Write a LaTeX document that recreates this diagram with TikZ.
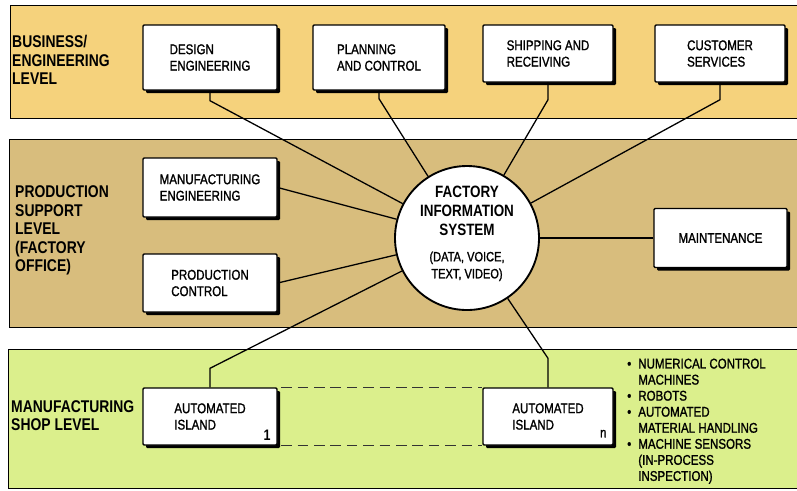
\documentclass[tikz,border=0pt]{standalone}
\usepackage{fontspec}
\setmainfont{Liberation Sans}[FakeStretch=0.82]
\newfontfamily\medfont{Liberation Sans}[FakeStretch=0.82, FakeBold=1.3]
\usetikzlibrary{shadows}
\definecolor{bizband}{HTML}{F5D27C}
\definecolor{supband}{HTML}{D8BD7D}
\definecolor{shopband}{HTML}{DBEF8C}

\begin{document}
\begin{tikzpicture}[x=0.03cm, y=-0.03cm,
    band/.style={draw=black, line width=0.7pt},
    unitbox/.style={draw=black, fill=white, line width=1.2pt, rounded corners=1pt,
      align=left, font=\medfont\fontsize{12}{14}\selectfont,
      general shadow={fill=black, shadow xshift=2.6pt, shadow yshift=-2.6pt}},
    level/.style={anchor=west, align=left, inner sep=0pt,
      font=\bfseries\fontsize{14.5}{15.8}\selectfont},
    link/.style={line width=1.1pt},
    islandgap/.style={line width=0.7pt, draw=black!80, dash pattern=on 9pt off 5pt}]
  \clip (0,0) rectangle (797,490);
  \fill[white] (0,0) rectangle (797,490);

  % the three levels
  \draw[band, fill=bizband] (10,5) rectangle (805,118);
  \draw[band, fill=supband] (9,139) rectangle (805,327);
  \draw[band, fill=shopband] (8,349) rectangle (805,488);

  \node[level] (bizlbl) at (12,60) {BUSINESS/\\ENGINEERING\\LEVEL};
  \node[level] (suplbl) at (15,230.5) {PRODUCTION\\SUPPORT\\LEVEL\\(FACTORY\\OFFICE)};
  \node[level] (shoplbl) at (11,415.5) {MANUFACTURING\\SHOP LEVEL};

  % factory information system
  \node[circle, draw=black, fill=white, line width=1.6pt, minimum size=4.32cm, inner sep=0pt] (fis) at (467,238) {};

  % business / engineering level
  \node[unitbox, minimum width=4.02cm, minimum height=1.95cm] (de) at (210,57.5) {DESIGN\\ENGINEERING};
  \node[unitbox, minimum width=3.96cm, minimum height=1.95cm] (pc) at (379,57.5) {PLANNING\\AND CONTROL};
  \node[unitbox, minimum width=3.9cm, minimum height=1.71cm] (sr) at (548,53.5) {SHIPPING AND\\RECEIVING};
  \node[unitbox, minimum width=3.9cm, minimum height=1.71cm] (cs) at (720,53.5) {CUSTOMER\\SERVICES};

  % production support level
  \node[unitbox, minimum width=4.02cm, minimum height=1.77cm] (me) at (210,187.5) {MANUFACTURING\\ENGINEERING};
  \node[unitbox, minimum width=4.02cm, minimum height=1.74cm] (pr) at (210,283) {PRODUCTION\\CONTROL};
  \node[unitbox, minimum width=3.99cm, minimum height=1.77cm] (mt) at (720.5,238) {MAINTENANCE};

  % manufacturing shop level
  \node[unitbox, minimum width=4.02cm, minimum height=1.71cm] (isl1) at (210,416.5) {AUTOMATED\\ISLAND};
  \node[unitbox, minimum width=3.9cm, minimum height=1.71cm] (isln) at (548,416.5) {AUTOMATED\\ISLAND};
  \node[anchor=south east, inner sep=0pt, font=\bfseries\fontsize{13}{13}\selectfont]
    (isl1no) at ([shift={(-7,-5)}]isl1.south east) {1};
  \node[anchor=south east, inner sep=0pt, font=\medfont\fontsize{12}{12}\selectfont]
    (islnno) at ([shift={(-7,-8)}]isln.south east) {n};
  \draw[islandgap] ([xshift=3pt]isl1.north east) -- (isln.north west);
  \draw[islandgap] ([xshift=3pt]isl1.south east) -- (isln.south west);

  \node[anchor=north west, inner sep=0pt, font=\medfont\fontsize{12}{13.7}\selectfont] (shoplist) at (627,357)
    {\begin{tabular}{@{}l@{\hspace{6pt}}l@{}}
      \textbullet & NUMERICAL CONTROL\\
                  & MACHINES\\
      \textbullet & ROBOTS\\
      \textbullet & AUTOMATED\\
                  & MATERIAL HANDLING\\
      \textbullet & MACHINE SENSORS\\
                  & (IN-PROCESS\\
                  & INSPECTION)
    \end{tabular}};

  % links to the information system
  \foreach \b/\d in {de/10, pc/8, sr/17, cs/17}
    \draw[link] (\b.south) -- ++(0,\d) -- (fis);
  \foreach \b/\d in {isl1/-19, isln/-29}
    \draw[link] (\b.north) -- ++(0,\d) -- (fis);
  \draw[link] (me.east) -- (fis);
  \draw[link] (pr.east) -- (fis);
  \draw[link] (mt.west) -- (fis);

  \node[align=center, font=\bfseries\fontsize{14}{16.2}\selectfont] (fistitle) at (fis.center) [yshift=0.81cm] {FACTORY\\INFORMATION\\SYSTEM};
  \node[align=center, font=\medfont\fontsize{11.5}{14.5}\selectfont] (fismedia) at (fis.center) [yshift=-0.85cm] {(DATA, VOICE,\\TEXT, VIDEO)};
\end{tikzpicture}
\end{document}
